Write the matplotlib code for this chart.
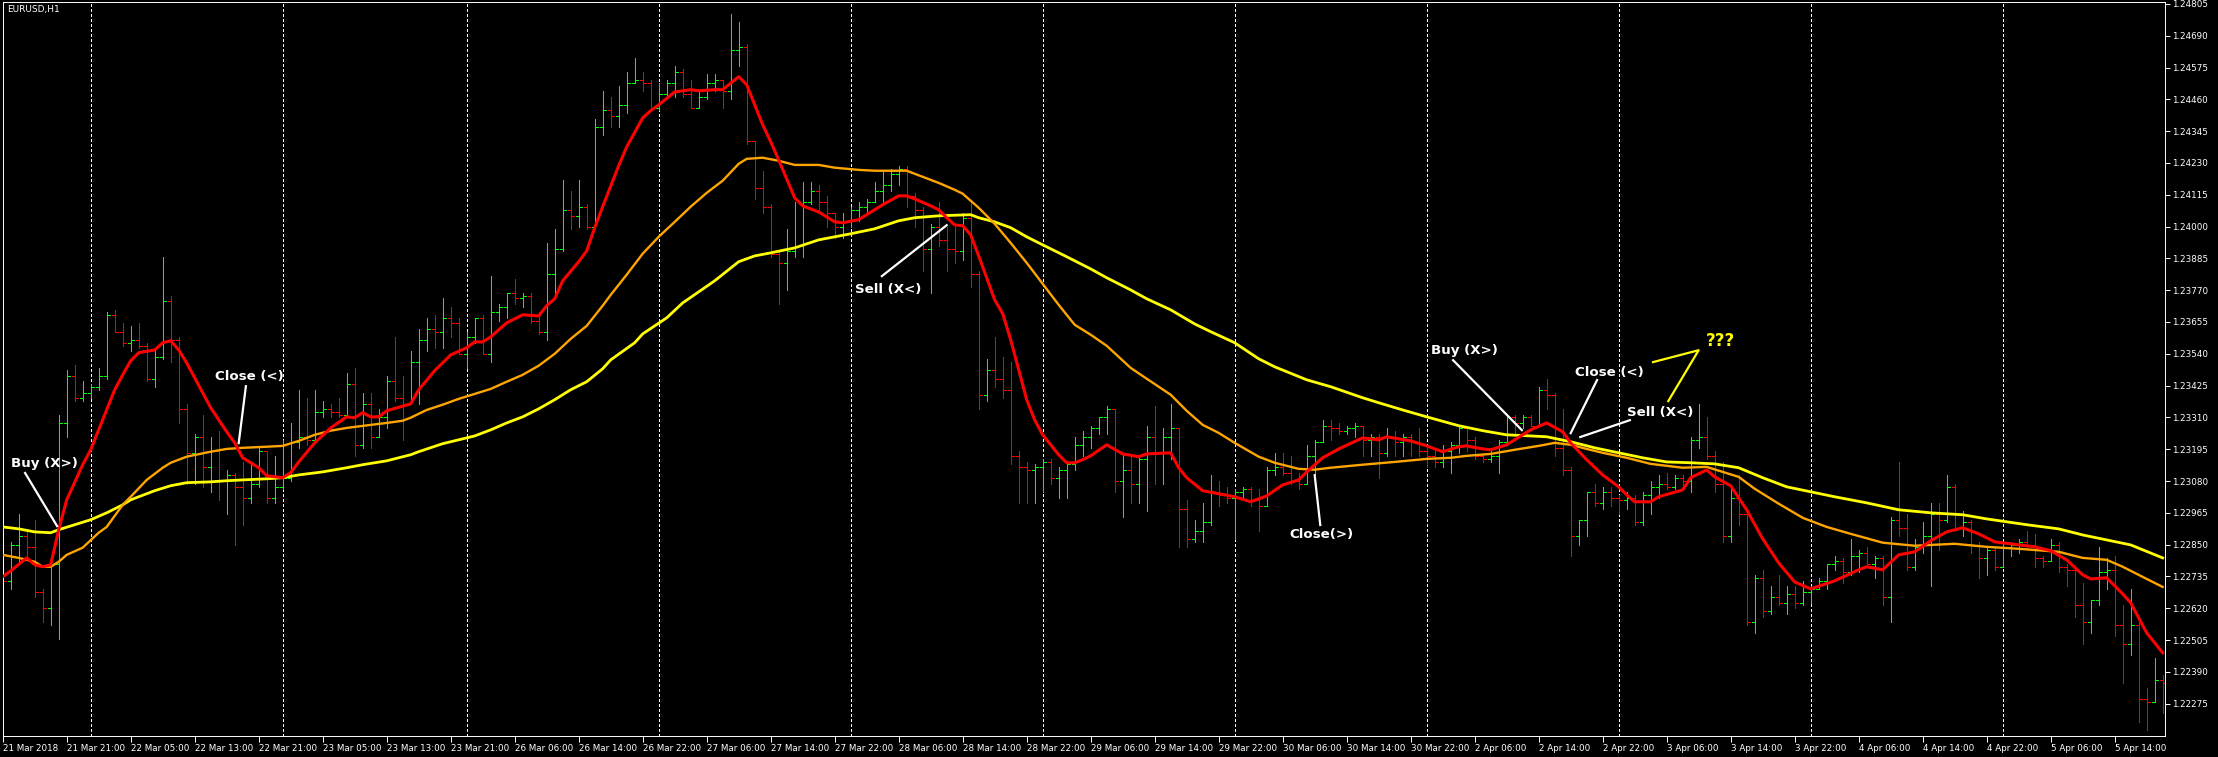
import numpy as np
import matplotlib
matplotlib.use('Agg')
import matplotlib.pyplot as plt
from matplotlib import rcParams

rcParams.update({'font.family': 'DejaVu Sans'})

symbol = 'EURUSD,H1'

# hourly bars
opens = [1.2276, 1.2272, 1.2285, 1.2288, 1.2284, 1.2268, 1.2262, 1.2278, 1.2329, 1.2346,
         1.2338, 1.2340, 1.2342, 1.2346, 1.2368, 1.2362, 1.2358, 1.2359, 1.2357, 1.2345,
         1.2353, 1.2373, 1.2359, 1.2334, 1.2318, 1.2324, 1.2313, 1.2319, 1.2308, 1.2310,
         1.2306, 1.2302, 1.2307, 1.2319, 1.2302, 1.2306, 1.2309, 1.2322, 1.2324, 1.2323,
         1.2333, 1.2334, 1.2333, 1.2332, 1.2343, 1.2321, 1.2336, 1.2324, 1.2331, 1.2344,
         1.2338, 1.2336, 1.2351, 1.2359, 1.2363, 1.2362, 1.2367, 1.2365, 1.2354, 1.2360,
         1.2367, 1.2354, 1.2369, 1.2371, 1.2376, 1.2374, 1.2375, 1.2366, 1.2362, 1.2383,
         1.2392, 1.2406, 1.2404, 1.2407, 1.2400, 1.2436, 1.2442, 1.2440, 1.2444, 1.2452,
         1.2453, 1.2452, 1.2443, 1.2448, 1.2452, 1.2456, 1.2448, 1.2443, 1.2447, 1.2452,
         1.2453, 1.2449, 1.2464, 1.2465, 1.2431, 1.2414, 1.2407, 1.2390, 1.2387, 1.2391,
         1.2393, 1.2409, 1.2413, 1.2409, 1.2405, 1.2400, 1.2402, 1.2406, 1.2407, 1.2409,
         1.2413, 1.2415, 1.2419, 1.2421, 1.2411, 1.2406, 1.2392, 1.2400, 1.2395, 1.2392,
         1.2391, 1.2403, 1.2383, 1.2339, 1.2348, 1.2345, 1.2341, 1.2317, 1.2313, 1.2312,
         1.2313, 1.2315, 1.2309, 1.2312, 1.2314, 1.2321, 1.2324, 1.2327, 1.2331, 1.2334,
         1.2308, 1.2312, 1.2307, 1.2316, 1.2324, 1.2318, 1.2324, 1.2327, 1.2298, 1.2287,
         1.2290, 1.2293, 1.2304, 1.2303, 1.2302, 1.2304, 1.2305, 1.2301, 1.2299, 1.2312,
         1.2313, 1.2311, 1.2308, 1.2307, 1.2317, 1.2322, 1.2328, 1.2327, 1.2326, 1.2327,
         1.2328, 1.2323, 1.2324, 1.2318, 1.2324, 1.2322, 1.2324, 1.2322, 1.2319, 1.2317,
         1.2315, 1.2319, 1.2321, 1.2327, 1.2323, 1.2317, 1.2316, 1.2317, 1.2322, 1.2331,
         1.2329, 1.2331, 1.2328, 1.2341, 1.2339, 1.2320, 1.2312, 1.2288, 1.2294, 1.2304,
         1.2300, 1.2304, 1.2302, 1.2301, 1.2302, 1.2293, 1.2303, 1.2306, 1.2307, 1.2306,
         1.2309, 1.2308, 1.2323, 1.2324, 1.2317, 1.2307, 1.2288, 1.2302, 1.2296, 1.2257,
         1.2273, 1.2261, 1.2266, 1.2264, 1.2267, 1.2264, 1.2268, 1.2269, 1.2272, 1.2278,
         1.2279, 1.2275, 1.2281, 1.2282, 1.2278, 1.2280, 1.2266, 1.2294, 1.2291, 1.2277,
         1.2284, 1.2288, 1.2296, 1.2294, 1.2306, 1.2291, 1.2293, 1.2285, 1.2280, 1.2283,
         1.2277, 1.2284, 1.2285, 1.2286, 1.2285, 1.2280, 1.2279, 1.2285, 1.2277, 1.2276,
         1.2263, 1.2257, 1.2265, 1.2275, 1.2276, 1.2256, 1.2249, 1.2256, 1.2229, 1.2228,
         1.2236]
highs = [1.2285, 1.2286, 1.2296, 1.2290, 1.2294, 1.2269, 1.2280, 1.2332, 1.2348, 1.2350,
         1.2344, 1.2343, 1.2349, 1.2369, 1.2370, 1.2365, 1.2364, 1.2365, 1.2358, 1.2355,
         1.2389, 1.2375, 1.2360, 1.2336, 1.2325, 1.2332, 1.2324, 1.2326, 1.2312, 1.2311,
         1.2315, 1.2315, 1.2320, 1.2319, 1.2317, 1.2323, 1.2329, 1.2341, 1.2338, 1.2341,
         1.2337, 1.2336, 1.2338, 1.2347, 1.2349, 1.2340, 1.2340, 1.2334, 1.2346, 1.2360,
         1.2346, 1.2355, 1.2363, 1.2367, 1.2368, 1.2374, 1.2371, 1.2367, 1.2362, 1.2367,
         1.2368, 1.2382, 1.2372, 1.2376, 1.2381, 1.2376, 1.2376, 1.2369, 1.2394, 1.2399,
         1.2417, 1.2413, 1.2417, 1.2408, 1.2439, 1.2449, 1.2447, 1.2451, 1.2456, 1.2461,
         1.2456, 1.2453, 1.2452, 1.2453, 1.2458, 1.2457, 1.2453, 1.2449, 1.2455, 1.2455,
         1.2453, 1.2477, 1.2474, 1.2466, 1.2431, 1.2420, 1.2408, 1.2391, 1.2399, 1.2409,
         1.2416, 1.2416, 1.2415, 1.2411, 1.2405, 1.2405, 1.2407, 1.2409, 1.2410, 1.2416,
         1.2420, 1.2421, 1.2422, 1.2422, 1.2412, 1.2407, 1.2401, 1.2409, 1.2400, 1.2400,
         1.2405, 1.2409, 1.2384, 1.2352, 1.2360, 1.2353, 1.2351, 1.2319, 1.2315, 1.2314,
         1.2316, 1.2316, 1.2313, 1.2315, 1.2324, 1.2326, 1.2328, 1.2331, 1.2335, 1.2334,
         1.2318, 1.2317, 1.2317, 1.2328, 1.2335, 1.2327, 1.2336, 1.2327, 1.2301, 1.2294,
         1.2300, 1.2310, 1.2308, 1.2306, 1.2305, 1.2306, 1.2306, 1.2305, 1.2313, 1.2318,
         1.2318, 1.2317, 1.2311, 1.2321, 1.2323, 1.2330, 1.2330, 1.2329, 1.2328, 1.2329,
         1.2328, 1.2325, 1.2325, 1.2327, 1.2326, 1.2325, 1.2325, 1.2327, 1.2320, 1.2320,
         1.2321, 1.2322, 1.2328, 1.2327, 1.2324, 1.2318, 1.2319, 1.2323, 1.2331, 1.2332,
         1.2332, 1.2332, 1.2342, 1.2345, 1.2340, 1.2334, 1.2313, 1.2294, 1.2304, 1.2307,
         1.2306, 1.2306, 1.2303, 1.2304, 1.2303, 1.2304, 1.2308, 1.2310, 1.2311, 1.2310,
         1.2310, 1.2324, 1.2336, 1.2331, 1.2319, 1.2315, 1.2306, 1.2310, 1.2298, 1.2274,
         1.2276, 1.2270, 1.2274, 1.2270, 1.2270, 1.2272, 1.2270, 1.2273, 1.2278, 1.2281,
         1.2280, 1.2287, 1.2283, 1.2284, 1.2281, 1.2281, 1.2295, 1.2315, 1.2296, 1.2287,
         1.2293, 1.2300, 1.2300, 1.2310, 1.2307, 1.2297, 1.2294, 1.2286, 1.2284, 1.2284,
         1.2286, 1.2286, 1.2287, 1.2290, 1.2289, 1.2281, 1.2287, 1.2286, 1.2278, 1.2277,
         1.2271, 1.2265, 1.2284, 1.2280, 1.2281, 1.2263, 1.2269, 1.2257, 1.2233, 1.2244,
         1.2238]
lows = [1.2265, 1.2269, 1.2278, 1.2281, 1.2266, 1.2257, 1.2256, 1.2251, 1.2324, 1.2337,
        1.2337, 1.2338, 1.2341, 1.2345, 1.2362, 1.2357, 1.2355, 1.2356, 1.2344, 1.2342,
        1.2352, 1.2351, 1.2329, 1.2307, 1.2307, 1.2306, 1.2304, 1.2301, 1.2296, 1.2285,
        1.2292, 1.2300, 1.2306, 1.2300, 1.2300, 1.2305, 1.2308, 1.2320, 1.2321, 1.2322,
        1.2331, 1.2331, 1.2331, 1.2331, 1.2317, 1.2320, 1.2320, 1.2324, 1.2327, 1.2337,
        1.2323, 1.2336, 1.2336, 1.2355, 1.2356, 1.2356, 1.2360, 1.2354, 1.2349, 1.2358,
        1.2354, 1.2351, 1.2366, 1.2367, 1.2372, 1.2371, 1.2365, 1.2361, 1.2359, 1.2374,
        1.2391, 1.2399, 1.2400, 1.2399, 1.2400, 1.2433, 1.2436, 1.2436, 1.2441, 1.2452,
        1.2449, 1.2442, 1.2442, 1.2447, 1.2447, 1.2447, 1.2443, 1.2443, 1.2446, 1.2449,
        1.2443, 1.2446, 1.2458, 1.2430, 1.2410, 1.2405, 1.2389, 1.2372, 1.2377, 1.2389,
        1.2389, 1.2408, 1.2405, 1.2400, 1.2396, 1.2396, 1.2400, 1.2402, 1.2405, 1.2409,
        1.2408, 1.2413, 1.2415, 1.2407, 1.2400, 1.2384, 1.2376, 1.2393, 1.2384, 1.2387,
        1.2388, 1.2378, 1.2334, 1.2337, 1.2342, 1.2338, 1.2314, 1.2300, 1.2300, 1.2300,
        1.2304, 1.2307, 1.2302, 1.2302, 1.2312, 1.2317, 1.2320, 1.2325, 1.2325, 1.2304,
        1.2295, 1.2300, 1.2300, 1.2297, 1.2307, 1.2307, 1.2316, 1.2284, 1.2284, 1.2286,
        1.2286, 1.2292, 1.2299, 1.2300, 1.2287, 1.2301, 1.2299, 1.2290, 1.2299, 1.2310,
        1.2310, 1.2307, 1.2305, 1.2307, 1.2310, 1.2322, 1.2323, 1.2325, 1.2325, 1.2324,
        1.2317, 1.2317, 1.2309, 1.2317, 1.2317, 1.2317, 1.2317, 1.2317, 1.2313, 1.2313,
        1.2313, 1.2311, 1.2318, 1.2319, 1.2316, 1.2315, 1.2315, 1.2311, 1.2321, 1.2325,
        1.2327, 1.2328, 1.2328, 1.2334, 1.2317, 1.2310, 1.2281, 1.2285, 1.2288, 1.2299,
        1.2298, 1.2299, 1.2296, 1.2298, 1.2292, 1.2292, 1.2296, 1.2302, 1.2305, 1.2305,
        1.2306, 1.2304, 1.2320, 1.2316, 1.2304, 1.2286, 1.2286, 1.2292, 1.2256, 1.2253,
        1.2259, 1.2260, 1.2263, 1.2260, 1.2262, 1.2263, 1.2264, 1.2269, 1.2269, 1.2276,
        1.2271, 1.2274, 1.2275, 1.2278, 1.2273, 1.2263, 1.2257, 1.2288, 1.2276, 1.2276,
        1.2282, 1.2270, 1.2283, 1.2293, 1.2290, 1.2288, 1.2282, 1.2273, 1.2274, 1.2276,
        1.2277, 1.2281, 1.2282, 1.2284, 1.2277, 1.2277, 1.2279, 1.2275, 1.2270, 1.2259,
        1.2249, 1.2253, 1.2263, 1.2269, 1.2252, 1.2235, 1.2245, 1.2221, 1.2218, 1.2228,
        1.2224]
closes = [1.2272, 1.2285, 1.2288, 1.2284, 1.2268, 1.2262, 1.2278, 1.2329, 1.2346, 1.2338,
          1.2340, 1.2342, 1.2346, 1.2368, 1.2362, 1.2358, 1.2359, 1.2357, 1.2345, 1.2353,
          1.2373, 1.2359, 1.2334, 1.2318, 1.2324, 1.2313, 1.2319, 1.2308, 1.2310, 1.2306,
          1.2302, 1.2307, 1.2319, 1.2302, 1.2306, 1.2309, 1.2322, 1.2324, 1.2323, 1.2333,
          1.2334, 1.2333, 1.2332, 1.2343, 1.2321, 1.2336, 1.2324, 1.2331, 1.2344, 1.2338,
          1.2336, 1.2351, 1.2359, 1.2363, 1.2362, 1.2367, 1.2365, 1.2354, 1.2360, 1.2367,
          1.2354, 1.2369, 1.2371, 1.2376, 1.2374, 1.2375, 1.2366, 1.2362, 1.2383, 1.2392,
          1.2406, 1.2404, 1.2407, 1.2400, 1.2436, 1.2442, 1.2440, 1.2444, 1.2452, 1.2453,
          1.2452, 1.2443, 1.2448, 1.2452, 1.2456, 1.2448, 1.2443, 1.2447, 1.2452, 1.2453,
          1.2449, 1.2464, 1.2465, 1.2431, 1.2414, 1.2407, 1.2390, 1.2387, 1.2391, 1.2393,
          1.2409, 1.2413, 1.2409, 1.2405, 1.2400, 1.2402, 1.2406, 1.2407, 1.2409, 1.2413,
          1.2415, 1.2419, 1.2421, 1.2411, 1.2406, 1.2392, 1.2400, 1.2395, 1.2392, 1.2391,
          1.2403, 1.2383, 1.2339, 1.2348, 1.2345, 1.2341, 1.2317, 1.2313, 1.2312, 1.2313,
          1.2315, 1.2309, 1.2312, 1.2314, 1.2321, 1.2324, 1.2327, 1.2331, 1.2334, 1.2308,
          1.2312, 1.2307, 1.2316, 1.2324, 1.2318, 1.2324, 1.2327, 1.2298, 1.2287, 1.2290,
          1.2293, 1.2304, 1.2303, 1.2302, 1.2304, 1.2305, 1.2301, 1.2299, 1.2312, 1.2313,
          1.2311, 1.2308, 1.2307, 1.2317, 1.2322, 1.2328, 1.2327, 1.2326, 1.2327, 1.2328,
          1.2323, 1.2324, 1.2318, 1.2324, 1.2322, 1.2324, 1.2322, 1.2319, 1.2317, 1.2315,
          1.2319, 1.2321, 1.2327, 1.2323, 1.2317, 1.2316, 1.2317, 1.2322, 1.2331, 1.2329,
          1.2331, 1.2328, 1.2341, 1.2339, 1.2320, 1.2312, 1.2288, 1.2294, 1.2304, 1.2300,
          1.2304, 1.2302, 1.2301, 1.2302, 1.2293, 1.2303, 1.2306, 1.2307, 1.2306, 1.2309,
          1.2308, 1.2323, 1.2324, 1.2317, 1.2307, 1.2288, 1.2302, 1.2296, 1.2257, 1.2273,
          1.2261, 1.2266, 1.2264, 1.2267, 1.2264, 1.2268, 1.2269, 1.2272, 1.2278, 1.2279,
          1.2275, 1.2281, 1.2282, 1.2278, 1.2280, 1.2266, 1.2294, 1.2291, 1.2277, 1.2284,
          1.2288, 1.2296, 1.2294, 1.2306, 1.2291, 1.2293, 1.2285, 1.2280, 1.2283, 1.2277,
          1.2284, 1.2285, 1.2286, 1.2285, 1.2280, 1.2279, 1.2285, 1.2277, 1.2276, 1.2263,
          1.2257, 1.2265, 1.2275, 1.2276, 1.2256, 1.2249, 1.2256, 1.2229, 1.2228, 1.2236,
          1.2235]

# moving averages (bar index, value) as drawn on the chart
ma_fast_bars = [0, 1, 3, 4, 5, 6, 7, 8, 10, 11, 12, 14, 15, 16, 17, 19, 20, 21, 22, 23,
                25, 26, 28, 29, 30, 32, 33, 35, 36, 37, 39, 41, 43, 44, 45, 46, 47, 48, 51, 52,
                54, 56, 58, 59, 60, 61, 63, 65, 67, 68, 69, 70, 72, 73, 74, 75, 77, 78, 80, 81,
                82, 84, 86, 87, 89, 90, 92, 93, 95, 96, 97, 99, 100, 101, 102, 104, 105, 107, 109, 110,
                112, 113, 114, 116, 117, 118, 119, 120, 121, 122, 124, 125, 126, 128, 129, 130, 132, 133, 134, 135,
                136, 138, 140, 142, 143, 146, 147, 148, 150, 152, 154, 156, 158, 160, 162, 163, 165, 167, 170, 172,
                173, 176, 178, 180, 182, 183, 185, 186, 188, 190, 191, 193, 195, 196, 198, 200, 202, 203, 204, 206,
                207, 210, 211, 213, 214, 216, 218, 220, 222, 224, 226, 229, 232, 233, 235, 237, 239, 241, 243, 245,
                247, 249, 251, 254, 256, 258, 260, 261, 263, 265, 266, 268, 270]
ma_fast = [1.22734, 1.22755, 1.22802, 1.22777, 1.22770, 1.22777, 1.22904, 1.23012, 1.23139, 1.23193,
           1.23265, 1.23410, 1.23464, 1.23515, 1.23544, 1.23554, 1.23580, 1.23587, 1.23554, 1.23507,
           1.23399, 1.23345, 1.23258, 1.23218, 1.23164, 1.23128, 1.23099, 1.23092, 1.23110, 1.23149,
           1.23218, 1.23272, 1.23312, 1.23309, 1.23327, 1.23312, 1.23312, 1.23334, 1.23359, 1.23410,
           1.23479, 1.23536, 1.23562, 1.23583, 1.23583, 1.23601, 1.23652, 1.23681, 1.23677, 1.23714,
           1.23739, 1.23804, 1.23873, 1.23912, 1.23996, 1.24072, 1.24220, 1.24288, 1.24393, 1.24419,
           1.24440, 1.24487, 1.24495, 1.24491, 1.24495, 1.24495, 1.24542, 1.24513, 1.24368, 1.24307,
           1.24241, 1.24104, 1.24075, 1.24064, 1.24053, 1.24017, 1.24014, 1.24025, 1.24061, 1.24079,
           1.24111, 1.24111, 1.24100, 1.24075, 1.24061, 1.24032, 1.24006, 1.24003, 1.23970, 1.23894,
           1.23735, 1.23685, 1.23591, 1.23374, 1.23301, 1.23247, 1.23175, 1.23146, 1.23146, 1.23157,
           1.23171, 1.23211, 1.23178, 1.23168, 1.23178, 1.23182, 1.23128, 1.23092, 1.23045, 1.23034,
           1.23023, 1.23005, 1.23026, 1.23066, 1.23084, 1.23113, 1.23164, 1.23196, 1.23236, 1.23229,
           1.23240, 1.23225, 1.23207, 1.23186, 1.23204, 1.23207, 1.23196, 1.23193, 1.23211, 1.23247,
           1.23265, 1.23290, 1.23258, 1.23218, 1.23157, 1.23102, 1.23059, 1.23030, 1.23005, 1.23005,
           1.23023, 1.23048, 1.23092, 1.23120, 1.23095, 1.23063, 1.22976, 1.22871, 1.22784, 1.22715,
           1.22690, 1.22719, 1.22759, 1.22770, 1.22759, 1.22813, 1.22824, 1.22864, 1.22896, 1.22911,
           1.22889, 1.22860, 1.22853, 1.22842, 1.22828, 1.22795, 1.22741, 1.22726, 1.22730, 1.22672,
           1.22640, 1.22531, 1.22459]

ma_mid_bars = [0, 2, 4, 5, 6, 7, 8, 10, 12, 13, 15, 16, 18, 20, 21, 23, 26, 28, 30, 33,
               35, 37, 39, 41, 43, 46, 48, 50, 51, 53, 55, 57, 59, 61, 63, 65, 67, 69, 71, 73,
               75, 76, 78, 80, 82, 84, 86, 88, 90, 92, 93, 95, 97, 99, 102, 104, 107, 109, 113, 114,
               117, 119, 120, 122, 124, 126, 128, 130, 132, 134, 136, 138, 141, 143, 146, 148, 150, 152, 154, 157,
               159, 162, 164, 166, 170, 174, 178, 181, 183, 186, 189, 192, 194, 196, 198, 200, 203, 206, 210, 213,
               217, 219, 222, 225, 228, 231, 235, 239, 244, 248, 252, 257, 260, 263, 265, 268, 270]
ma_mid = [1.22813, 1.22802, 1.22788, 1.22770, 1.22770, 1.22788, 1.22813, 1.22839, 1.22893, 1.22914,
          1.22994, 1.23023, 1.23084, 1.23128, 1.23146, 1.23168, 1.23186, 1.23196, 1.23200, 1.23204,
          1.23207, 1.23225, 1.23247, 1.23262, 1.23272, 1.23283, 1.23290, 1.23298, 1.23309, 1.23337,
          1.23356, 1.23377, 1.23395, 1.23413, 1.23439, 1.23464, 1.23497, 1.23540, 1.23594, 1.23641,
          1.23714, 1.23753, 1.23826, 1.23902, 1.23963, 1.24017, 1.24072, 1.24122, 1.24166, 1.24227,
          1.24245, 1.24249, 1.24238, 1.24223, 1.24223, 1.24213, 1.24205, 1.24202, 1.24202, 1.24191,
          1.24158, 1.24133, 1.24119, 1.24068, 1.24010, 1.23941, 1.23869, 1.23793, 1.23717, 1.23645,
          1.23609, 1.23569, 1.23489, 1.23450, 1.23392, 1.23334, 1.23283, 1.23254, 1.23218, 1.23168,
          1.23146, 1.23124, 1.23121, 1.23128, 1.23139, 1.23149, 1.23160, 1.23164, 1.23171, 1.23178,
          1.23193, 1.23207, 1.23218, 1.23211, 1.23196, 1.23182, 1.23164, 1.23142, 1.23128, 1.23131,
          1.23095, 1.23052, 1.22998, 1.22947, 1.22914, 1.22889, 1.22857, 1.22846, 1.22853, 1.22842,
          1.22835, 1.22824, 1.22802, 1.22795, 1.22770, 1.22726, 1.22697]

ma_slow_bars = [0, 2, 4, 6, 7, 9, 11, 13, 15, 16, 19, 21, 23, 26, 28, 30, 33, 35, 37, 40,
                43, 45, 48, 51, 52, 55, 57, 59, 61, 63, 65, 67, 69, 71, 73, 75, 76, 79, 80, 83,
                85, 87, 89, 92, 94, 96, 99, 102, 106, 109, 112, 114, 117, 121, 122, 124, 126, 128, 130, 133,
                136, 138, 141, 143, 146, 149, 151, 154, 157, 159, 163, 166, 170, 172, 175, 178, 182, 185, 188, 191,
                193, 196, 199, 202, 205, 208, 211, 214, 217, 220, 223, 226, 229, 233, 237, 241, 245, 248, 253, 257,
                260, 263, 266, 270]
ma_slow = [1.22914, 1.22907, 1.22896, 1.22893, 1.22904, 1.22922, 1.22940, 1.22965, 1.22994, 1.23012,
           1.23045, 1.23063, 1.23074, 1.23077, 1.23081, 1.23084, 1.23088, 1.23092, 1.23102, 1.23113,
           1.23128, 1.23139, 1.23153, 1.23175, 1.23186, 1.23215, 1.23229, 1.23243, 1.23265, 1.23290,
           1.23312, 1.23341, 1.23374, 1.23410, 1.23439, 1.23486, 1.23518, 1.23580, 1.23612, 1.23670,
           1.23724, 1.23764, 1.23804, 1.23873, 1.23894, 1.23905, 1.23923, 1.23952, 1.23974, 1.23992,
           1.24021, 1.24032, 1.24039, 1.24043, 1.24032, 1.24017, 1.23996, 1.23963, 1.23934, 1.23891,
           1.23847, 1.23815, 1.23771, 1.23739, 1.23699, 1.23648, 1.23620, 1.23580, 1.23522, 1.23493,
           1.23446, 1.23421, 1.23381, 1.23363, 1.23337, 1.23312, 1.23280, 1.23262, 1.23247, 1.23243,
           1.23240, 1.23222, 1.23200, 1.23182, 1.23164, 1.23149, 1.23146, 1.23142, 1.23128, 1.23092,
           1.23059, 1.23041, 1.23023, 1.23001, 1.22976, 1.22965, 1.22958, 1.22943, 1.22922, 1.22907,
           1.22885, 1.22867, 1.22849, 1.22802]

time_labels = ['21 Mar 2018', '21 Mar 21:00', '22 Mar 05:00', '22 Mar 13:00', '22 Mar 21:00',
               '23 Mar 05:00', '23 Mar 13:00', '23 Mar 21:00', '26 Mar 06:00', '26 Mar 14:00',
               '26 Mar 22:00', '27 Mar 06:00', '27 Mar 14:00', '27 Mar 22:00', '28 Mar 06:00',
               '28 Mar 14:00', '28 Mar 22:00', '29 Mar 06:00', '29 Mar 14:00', '29 Mar 22:00',
               '30 Mar 06:00', '30 Mar 14:00', '30 Mar 22:00', '2 Apr 06:00', '2 Apr 14:00',
               '2 Apr 22:00', '3 Apr 06:00', '3 Apr 14:00', '3 Apr 22:00', '4 Apr 06:00',
               '4 Apr 14:00', '4 Apr 22:00', '5 Apr 06:00', '5 Apr 14:00']
day_starts = [11, 35, 58, 82, 106, 130, 154, 178, 202, 226, 250]

# (text, text x, text y, pointer from x, from y, to x, to y)
notes = [('Buy (X>)', 5.2, 1.23145, 2.8, 1.23109, 6.8, 1.22917),
         ('Close (<)', 30.8, 1.23459, 30.4, 1.23423, 29.5, 1.23217),
         ('Sell (X<)', 110.7, 1.23774, 109.9, 1.23821, 118.0, 1.24005),
         ('Close(>)', 164.8, 1.22888, 164.0, 1.23101, 164.7, 1.22921),
         ('Buy (X>)', 182.7, 1.23553, 181.3, 1.23517, 189.9, 1.23264),
         ('Close (<)', 200.9, 1.23474, 199.3, 1.23445, 196.0, 1.23253),
         ('Sell (X<)', 207.2, 1.23329, 197.2, 1.23239, 203.4, 1.23300)]
question = ('???', 214.7, 1.23586)
question_arms = ([206.3, 212.0, 208.2], [1.2351, 1.23553, 1.23369])

if __name__ == '__main__':
    o = np.array(opens)
    h = np.array(highs)
    l = np.array(lows)
    c = np.array(closes)
    x = np.arange(len(c))
    col = np.where(c >= o, '#00FF00', '#FF0000')

    fig = plt.figure(figsize=(22.18, 7.57), dpi=100, facecolor='black')
    ax = fig.add_axes([2.7 / 2218, 1 - 736 / 757, 2162.6 / 2218, 733.7 / 757])
    ax.set_facecolor('black')
    ax.set_xlim(0, 270.33)
    ax.set_ylim(1.22158, 1.24811)

    for d in day_starts:
        ax.axvline(d, color='white', lw=0.7, ls=(0, (3, 3)), antialiased=False, zorder=1)

    ax.vlines(x, l, h, colors=col, lw=0.7, antialiased=False, zorder=2)
    ax.hlines(o, x - 0.375, x, colors=col, lw=0.7, antialiased=False, zorder=2)
    ax.hlines(c, x, x + 0.375, colors=col, lw=0.7, antialiased=False, zorder=2)

    ax.plot(ma_slow_bars, ma_slow, color='#FFFF00', lw=2.0, zorder=3, solid_joinstyle='round')
    ax.plot(ma_mid_bars, ma_mid, color='#FFA500', lw=1.7, zorder=3, solid_joinstyle='round')
    ax.plot(ma_fast_bars, ma_fast, color='#FF0000', lw=2.2, zorder=4, solid_joinstyle='round')

    for txt, tx, ty, x0, y0, x1, y1 in notes:
        ax.plot([x0, x1], [y0, y1], color='white', lw=1.6, zorder=5)
        ax.text(tx, ty, txt, color='white', fontsize=9.6, fontweight='bold',
                ha='center', va='center', zorder=6)
    ax.plot(question_arms[0], question_arms[1], color='#FFFF00', lw=1.6, zorder=5)
    ax.text(question[1], question[2], question[0], color='#FFFF00', fontsize=12,
            fontweight='bold', ha='center', va='center', zorder=6)

    ax.text(0.002, 0.997, symbol, transform=ax.transAxes, color='white', fontsize=6.5,
            ha='left', va='top')

    # price scale on the right
    yt = np.arange(1.22275, 1.24806, 0.00115)
    ax.yaxis.tick_right()
    ax.set_yticks(yt)
    ax.set_yticklabels(['%.5f' % v for v in yt])
    ax.tick_params(axis='y', colors='white', direction='out', length=3.5, width=0.7,
                   pad=1.5, labelsize=6.3)

    ax.set_xticks(np.arange(len(time_labels)) * 8)
    ax.set_xticklabels(time_labels)
    ax.tick_params(axis='x', colors='white', direction='out', length=4, width=0.7,
                   pad=1.5, labelsize=6.3)
    for lb in ax.get_xticklabels():
        lb.set_ha('left')

    for s in ax.spines.values():
        s.set_color('white')
        s.set_linewidth(0.7)

    fig.savefig('out.png', dpi=100, facecolor='black')
